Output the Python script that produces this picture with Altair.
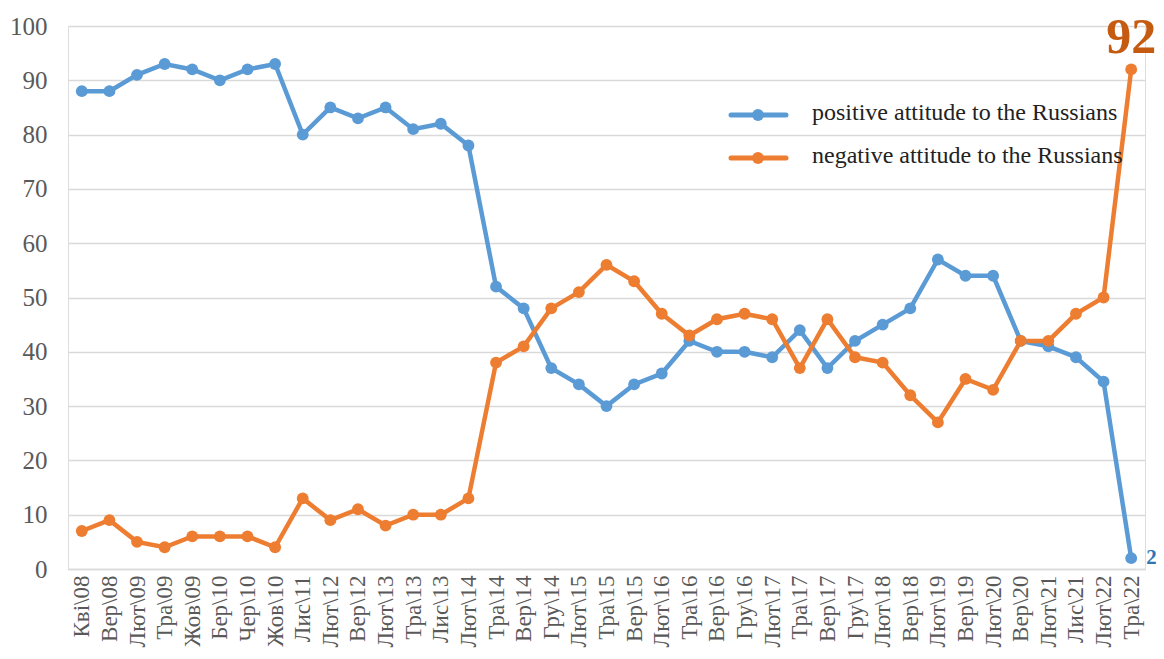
import altair as alt
import pandas as pd

labels = ["Кві\\08", "Вер\\08", "Лют\\09", "Тра\\09", "Жов\\09", "Бер\\10", "Чер\\10", "Жов\\10",
          "Лис\\11", "Лют\\12", "Вер\\12", "Лют\\13", "Тра\\13", "Лис\\13", "Лют\\14", "Тра\\14",
          "Вер\\14", "Гру\\14", "Лют\\15", "Тра\\15", "Вер\\15", "Лют\\16", "Тра\\16", "Вер\\16",
          "Гру\\16", "Лют\\17", "Тра\\17", "Вер\\17", "Гру\\17", "Лют\\18", "Вер\\18", "Лют\\19",
          "Вер\\19", "Лют\\20", "Вер\\20", "Лют\\21", "Лис\\21", "Лют\\22", "Тра\\22"]

positive = [88, 88, 91, 93, 92, 90, 92, 93, 80, 85, 83, 85, 81, 82, 78, 52, 48, 37, 34, 30,
            34, 36, 42, 40, 40, 39, 44, 37, 42, 45, 48, 57, 54, 54, 42, 41, 39, 34.5, 2]
negative = [7, 9, 5, 4, 6, 6, 6, 4, 13, 9, 11, 8, 10, 10, 13, 38, 41, 48, 51, 56,
            53, 47, 43, 46, 47, 46, 37, 46, 39, 38, 32, 27, 35, 33, 42, 42, 47, 50, 92]

pos_name = "positive attitude to the Russians"
neg_name = "negative attitude to the Russians"
BLUE = "#5B9BD5"
ORANGE = "#ED7D31"
FONT = "Liberation Serif, DejaVu Serif, serif"

rows = []
for i, lab in enumerate(labels):
    rows.append({"period": lab, "series": pos_name, "value": positive[i]})
for i, lab in enumerate(labels):
    rows.append({"period": lab, "series": neg_name, "value": negative[i]})
df = pd.DataFrame(rows)

x_enc = alt.X("period:O", sort=labels, title=None,
              scale=alt.Scale(type="point", padding=0.5),
              axis=alt.Axis(labelAngle=-90, labelAlign="right", labelBaseline="middle",
                            labelFontSize=23, labelColor="#595959", labelFont=FONT,
                            ticks=False, domain=True, domainColor="#d9d9d9", domainWidth=1.5,
                            labelPadding=6, grid=False, labelOverlap=False))
y_enc = alt.Y("value:Q", title=None,
              scale=alt.Scale(domain=[0, 100], nice=False),
              axis=alt.Axis(values=list(range(0, 101, 10)), labelFontSize=25,
                            labelColor="#595959", labelFont=FONT, ticks=False, domain=False,
                            gridColor="#d9d9d9", gridWidth=1.5, labelPadding=21))
color_enc = alt.Color("series:N", scale=alt.Scale(domain=[pos_name, neg_name], range=[BLUE, ORANGE]),
                      legend=None)

base = alt.Chart(df)
lines = base.mark_line(strokeWidth=4.5).encode(x=x_enc, y=y_enc, color=color_enc, detail="series:N")
points = base.mark_circle(size=140, opacity=1).encode(x=x_enc, y=y_enc, color=color_enc)

last_neg = pd.DataFrame({"period": [labels[-1]], "value": [negative[-1]], "txt": [str(negative[-1])]})
last_pos = pd.DataFrame({"period": [labels[-1]], "value": [positive[-1]], "txt": [str(positive[-1])]})

ann_neg = alt.Chart(last_neg).mark_text(font=FONT, fontSize=50, fontWeight="bold", color="#C55A11",
                                        align="center", baseline="alphabetic", dy=-16).encode(
    x=alt.X("period:O", sort=labels), y="value:Q", text="txt:N")
ann_pos = alt.Chart(last_pos).mark_text(font=FONT, fontSize=21, fontWeight="bold", color="#2E75B6",
                                        align="left", baseline="middle", dx=15).encode(
    x=alt.X("period:O", sort=labels), y="value:Q", text="txt:N")

def legend_entry(name, color, ypix):
    d = pd.DataFrame({"name": [name]})
    c = alt.Chart(d)
    rule = c.mark_rule(strokeWidth=5, color=color, strokeCap="round").encode(
        x=alt.value(663), x2=alt.value(718), y=alt.value(ypix))
    dot = c.mark_circle(size=140, color=color, opacity=1).encode(
        x=alt.value(690), y=alt.value(ypix))
    txt = c.mark_text(font=FONT, fontSize=24, color="#222222", align="left", baseline="middle").encode(
        x=alt.value(744), y=alt.value(ypix - 2), text="name:N")
    return [rule, dot, txt]

legend_layers = legend_entry(pos_name, BLUE, 89) + legend_entry(neg_name, ORANGE, 132)

chart = alt.layer(lines, points, *legend_layers, ann_neg, ann_pos).properties(
    width=1077, height=543,
    autosize=alt.AutoSizeParams(type="none"),
    padding={"left": 60, "top": 18, "right": 11, "bottom": 82},
).configure_view(stroke=None).configure(background="white")

chart.save("out.html", embed_options={"renderer": "svg", "actions": False})
